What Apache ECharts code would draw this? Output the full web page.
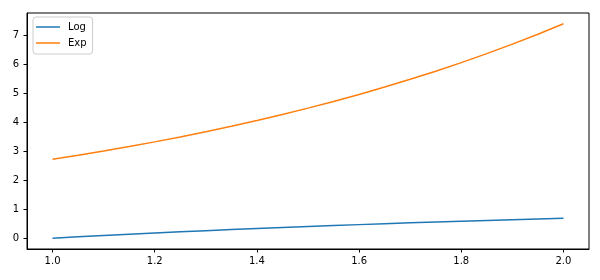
<!DOCTYPE html>
<html>
<head>
<meta charset="utf-8">
<script src="https://cdn.jsdelivr.net/npm/echarts@6/dist/echarts.min.js"></script>
<style>html,body{margin:0;padding:0;background:#fff}#c{width:600px;height:280px}</style>
</head>
<body>
<div id="c"></div>
<script>
var xValues = [1.00,1.05,1.10,1.15,1.20,1.25,1.30,1.35,1.40,1.45,1.50,1.55,1.60,1.65,1.70,1.75,1.80,1.85,1.90,1.95,2.00];
var logValues = [0,0.0488,0.0953,0.1398,0.1823,0.2231,0.2624,0.3001,0.3365,0.3716,0.4055,0.4383,0.4700,0.5008,0.5306,0.5596,0.5878,0.6152,0.6419,0.6678,0.6931];
var expValues = [2.7183,2.8577,3.0042,3.1582,3.3201,3.4903,3.6693,3.8574,4.0552,4.2631,4.4817,4.7115,4.9530,5.2070,5.4739,5.7546,6.0496,6.3598,6.6859,7.0287,7.3891];
var xTicks = [1.0,1.2,1.4,1.6,1.8,2.0];
var yTicks = [0,1,2,3,4,5,6,7];
var seriesNames = ['Log','Exp'];

function pairs(xs, ys){ return xs.map(function(x,i){ return [x, ys[i]]; }); }

var font = 'DejaVu Sans';
var chart = echarts.init(document.getElementById('c'), null, {renderer:'canvas'});
chart.setOption({
  animation:false,
  backgroundColor:'#fff',
  grid:{left:27, top:13, width:562, height:236, show:true, borderColor:'#000', borderWidth:1, backgroundColor:'transparent'},
  legend:{
    left:33, top:17, orient:'vertical',
    data:seriesNames.map(function(n){ return {name:n, icon:'rect'}; }),
    itemWidth:24, itemHeight:1.5, itemGap:4,
    padding:[4,6,5,3],
    borderColor:'#cccccc', borderWidth:1, borderRadius:3,
    backgroundColor:'rgba(255,255,255,0.8)',
    textStyle:{fontFamily:font, fontSize:10, lineHeight:12, color:'#000', padding:[0,0,0,3]}
  },
  xAxis:{
    type:'value', min:0.95, max:2.05,
    splitLine:{show:false},
    axisLine:{show:true, onZero:false, lineStyle:{color:'#000', width:1}},
    axisTick:{show:true, length:3.5, lineStyle:{color:'#000'}, customValues:xTicks},
    axisLabel:{customValues:xTicks, fontFamily:font, fontSize:10, color:'#000', margin:7,
      formatter:function(v){ return v.toFixed(1); }}
  },
  yAxis:{
    type:'value', min:-0.3695, max:7.7586,
    splitLine:{show:false},
    axisLine:{show:true, onZero:false, lineStyle:{color:'#000', width:1}},
    axisTick:{show:true, length:3.5, lineStyle:{color:'#000'}, customValues:yTicks},
    axisLabel:{customValues:yTicks, fontFamily:font, fontSize:10, color:'#000', margin:8,
      formatter:function(v){ return String(Math.round(v)); }}
  },
  series:[
    {name:seriesNames[0], type:'line', data:pairs(xValues, logValues), symbol:'none', smooth:false,
      lineStyle:{color:'#1f77b4', width:1.5}, itemStyle:{color:'#1f77b4'}},
    {name:seriesNames[1], type:'line', data:pairs(xValues, expValues), symbol:'none', smooth:false,
      lineStyle:{color:'#ff7f0e', width:1.5}, itemStyle:{color:'#ff7f0e'}}
  ]
});
</script>
</body>
</html>
